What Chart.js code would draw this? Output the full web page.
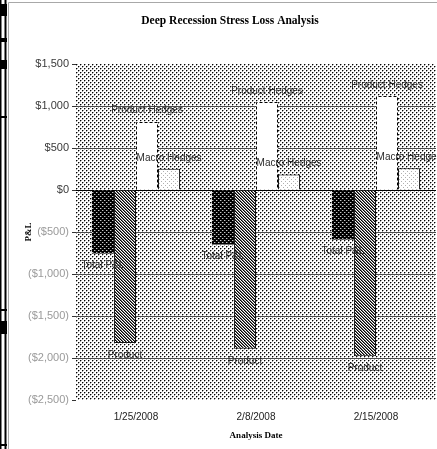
<!DOCTYPE html>
<html>
<head>
<meta charset="utf-8">
<script src="https://cdn.jsdelivr.net/npm/chart.js@4.4.1/dist/chart.umd.min.js"></script>
<style>
  html, body { margin: 0; padding: 0; background: #fff; overflow: hidden; }
  canvas { display: block; }
</style>
</head>
<body>
<canvas id="c" width="437" height="449"></canvas>
<script>
// ---- data ----
const TITLE = 'Deep Recession Stress Loss Analysis';
const X_TITLE = 'Analysis Date';
const Y_TITLE = 'P&L';
const dates = ['1/25/2008', '2/8/2008', '2/15/2008'];
const seriesNames = ['Total P&L', 'Product', 'Product Hedges', 'Macro Hedges'];
const totalPL = [-755, -650, -590];
const product = [-1820, -1890, -1980];
const productHedges = [815, 1050, 1120];
const macroHedges = [252, 184, 259];
const yRange = [-2500, 1500];
const yStep = 500;

// ---- fill patterns ----
const canvas = document.getElementById('c');
const ctx0 = canvas.getContext('2d');
// paint(x, y) returns a colour for that cell of the tile, or null to leave the base colour
function makePattern(size, bg, paint) {
  const t = document.createElement('canvas');
  t.width = t.height = size;
  const g = t.getContext('2d');
  g.fillStyle = bg;
  g.fillRect(0, 0, size, size);
  for (let y = 0; y < size; y++)
    for (let x = 0; x < size; x++) {
      const col = paint(x, y);
      if (col) { g.fillStyle = col; g.fillRect(x, y, 1, 1); }
    }
  return ctx0.createPattern(t, 'repeat');
}
const dotsBack = makePattern(4, '#ffffff', (x, y) => {
  if ((x === 0 && y === 0) || (x === 2 && y === 2)) return '#000000';
  if ((x === 1 && y === 0) || (x === 0 && y === 1) || (x === 3 && y === 2) || (x === 2 && y === 3)) return '#a0a0a0';
  return null;
});
const darkDots = makePattern(4, '#000000', (x, y) => {
  if ((x === 0 && y === 0) || (x === 2 && y === 2)) return '#c8c8c8';
  if ((x === 1 && y === 0) || (x === 3 && y === 2)) return '#505050';
  return null;
});
const hatch = makePattern(6, '#ffffff', (x, y) => {
  const k = (x - y + 12) % 3;
  return k === 0 ? '#000000' : (k === 1 ? '#707070' : null);
});
const lightDots = makePattern(4, '#ffffff', (x, y) => ((x === 1 && y === 1) || (x === 3 && y === 3)) ? '#b0b0b0' : null);

// ---- helpers ----
function money(v) {
  const s = '$' + Math.abs(v).toLocaleString('en-US');
  return v < 0 ? '(' + s + ')' : s;
}

// sheet edge and plot background
const backdrop = {
  id: 'backdrop',
  beforeDraw(chart) {
    const ctx = chart.ctx;
    const a = chart.chartArea;
    ctx.save();
    ctx.fillStyle = '#fff';
    ctx.fillRect(0, 0, chart.width, chart.height);
    // neighbouring worksheet edge
    ctx.fillStyle = '#000';
    ctx.fillRect(0, 0, 1.5, chart.height);
    ctx.fillRect(4.5, 0, 2, chart.height);
    [[0, 4, 7, 12], [1, 38, 6, 4], [0, 60, 7, 9], [0, 116, 7, 2], [0, 309, 7, 2], [1, 321, 6, 13], [0, 444, 7, 2]]
      .forEach(r => ctx.fillRect(r[0], r[1], r[2], r[3]));
    // chart frame
    ctx.strokeStyle = '#a8a8a8';
    ctx.lineWidth = 1;
    ctx.beginPath();
    ctx.moveTo(8.5, chart.height);
    ctx.lineTo(8.5, 2.5);
    ctx.lineTo(chart.width, 2.5);
    ctx.stroke();
    // plot area fill
    ctx.fillStyle = dotsBack;
    ctx.fillRect(a.left, a.top, a.right - a.left, a.bottom - a.top);
    ctx.restore();
  }
};

// chart title
const headline = {
  id: 'headline',
  afterDraw(chart) {
    const ctx = chart.ctx;
    ctx.save();
    ctx.font = 'bold 11.5px "Liberation Serif", "Times New Roman", serif';
    ctx.fillStyle = '#000';
    ctx.textAlign = 'center';
    ctx.textBaseline = 'middle';
    ctx.fillText(TITLE, 230, 21);
    ctx.restore();
  }
};

// series-name labels at bar ends, dashed outline for Product Hedges
const barNotes = {
  id: 'barNotes',
  afterDatasetsDraw(chart) {
    const ctx = chart.ctx;
    ctx.save();
    chart.data.datasets.forEach((ds, i) => {
      if (!ds.dashedEdge) return;
      chart.getDatasetMeta(i).data.forEach(bar => {
        const p = bar.getProps(['x', 'y', 'base', 'width'], true);
        const l = Math.round(p.x - p.width / 2) + 0.5;
        const r = Math.round(p.x + p.width / 2) - 0.5;
        const t = Math.round(p.y) + 0.5;
        ctx.strokeStyle = '#000';
        ctx.lineWidth = 1;
        ctx.setLineDash([3, 2]);
        ctx.beginPath();
        ctx.moveTo(l, p.base);
        ctx.lineTo(l, t);
        ctx.lineTo(r, t);
        ctx.lineTo(r, p.base);
        ctx.stroke();
        ctx.setLineDash([]);
      });
    });
    ctx.font = '10px "Liberation Sans", Arial, sans-serif';
    ctx.fillStyle = '#2a2a2a';
    ctx.textAlign = 'center';
    ctx.textBaseline = 'middle';
    chart.data.datasets.forEach((ds, i) => {
      chart.getDatasetMeta(i).data.forEach((bar, j) => {
        const p = bar.getProps(['x', 'y'], true);
        const v = ds.data[j];
        ctx.fillText(ds.label, p.x, v >= 0 ? p.y - 11 : p.y + 12);
      });
    });
    ctx.restore();
  }
};

new Chart(canvas, {
  type: 'bar',
  data: {
    labels: dates,
    datasets: [
      { label: seriesNames[0], data: totalPL, backgroundColor: darkDots, borderWidth: 0 },
      { label: seriesNames[1], data: product, backgroundColor: hatch, borderColor: '#111', borderWidth: { left: 1, right: 1, top: 0, bottom: 1 }, borderSkipped: false },
      { label: seriesNames[2], data: productHedges, backgroundColor: '#ffffff', borderWidth: 0, dashedEdge: true },
      { label: seriesNames[3], data: macroHedges, backgroundColor: lightDots, borderColor: '#000', borderWidth: 1 }
    ]
  },
  options: {
    responsive: false,
    animation: false,
    events: [],
    layout: { padding: { top: 64, right: 1, left: 0, bottom: 0 } },
    datasets: { bar: { barPercentage: 1, categoryPercentage: 0.735, grouped: true } },
    plugins: {
      legend: { display: false },
      title: { display: false },
      tooltip: { enabled: false }
    },
    scales: {
      x: {
        offset: true,
        grid: { display: false, drawTicks: false },
        border: { display: false },
        ticks: {
          color: '#222',
          padding: 11,
          font: { family: '"Liberation Sans", Arial, sans-serif', size: 10 },
          maxRotation: 0
        },
        title: {
          display: true,
          text: X_TITLE,
          color: '#000',
          font: { family: '"Liberation Serif", "Times New Roman", serif', size: 9, weight: 'bold' },
          padding: { top: 0, bottom: 8 }
        },
        afterFit(s) { s.height = 49; s.paddingLeft = 0; s.paddingRight = 0; }
      },
      y: {
        min: yRange[0],
        max: yRange[1],
        border: { display: false },
        grid: {
          color: c => c.tick.value === 0 ? '#000' : (c.tick.value === yRange[0] || c.tick.value === yRange[1] ? 'rgba(0,0,0,0)' : '#4a4a4a'),
          tickColor: '#333',
          tickLength: 4,
          lineWidth: 1
        },
        ticks: {
          stepSize: yStep,
          padding: 3,
          color: c => c.tick.value < 0 ? '#9a9a9a' : '#3a3a3a',
          font: { family: '"Liberation Sans", Arial, sans-serif', size: 11 },
          callback: v => money(v)
        },
        title: {
          display: true,
          text: Y_TITLE,
          color: '#000',
          font: { family: '"Liberation Serif", "Times New Roman", serif', size: 9, weight: 'bold' },
          padding: { top: 23, bottom: 0 }
        },
        afterFit(s) { s.width = 76; s.paddingTop = 0; s.paddingBottom = 0; }
      }
    }
  },
  plugins: [backdrop, headline, barNotes]
});
</script>
</body>
</html>
